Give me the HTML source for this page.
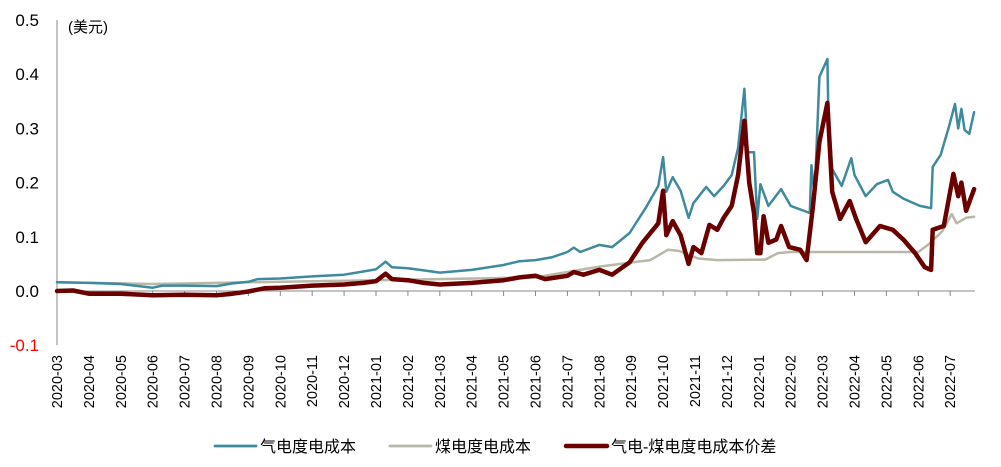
<!DOCTYPE html>
<html><head><meta charset="utf-8"><style>
body{margin:0;background:#fff;}
svg{display:block;font-family:"Liberation Sans","Noto Sans CJK SC",sans-serif;}
</style></head><body>
<svg id="chart" width="1001" height="467" viewBox="0 0 1001 467"></svg>
<script>
const monthLabels=["2020-03","2020-04","2020-05","2020-06","2020-07","2020-08","2020-09","2020-10","2020-11","2020-12","2021-01","2021-02","2021-03","2021-04","2021-05","2021-06","2021-07","2021-08","2021-09","2021-10","2021-11","2021-12","2022-01","2022-02","2022-03","2022-04","2022-05","2022-06","2022-07"];
const yTicks=[-0.1,0,0.1,0.2,0.3,0.4,0.5];
const yTickLabels=["-0.1","0.0","0.1","0.2","0.3","0.4","0.5"];
const gasT=[0,1,2,3,3.3,4,5,5.5,6,6.3,7,8,9,9.6,10,10.3,10.5,11,11.5,12,13,14,14.5,15,15.5,16,16.2,16.4,17,17.4,17.95,18.45,18.85,19.0,19.1,19.3,19.55,19.8,19.95,20.35,20.6,20.9,21.15,21.35,21.55,21.65,21.85,21.95,22.05,22.3,22.7,23.0,23.6,23.65,23.75,23.9,24.15,24.18,24.3,24.6,24.9,25.0,25.35,25.7,26.05,26.2,26.55,27.05,27.4,27.45,27.7,27.95,28.15,28.25,28.35,28.45,28.6,28.75];
const gasV=[0.016,0.015,0.013,0.006,0.01,0.01,0.009,0.014,0.017,0.022,0.023,0.027,0.03,0.036,0.04,0.054,0.044,0.042,0.038,0.034,0.039,0.048,0.055,0.057,0.062,0.072,0.08,0.072,0.085,0.081,0.107,0.153,0.194,0.247,0.183,0.21,0.185,0.135,0.162,0.192,0.175,0.194,0.214,0.264,0.373,0.256,0.256,0.133,0.197,0.157,0.188,0.157,0.144,0.232,0.175,0.395,0.428,0.332,0.225,0.194,0.245,0.214,0.175,0.197,0.205,0.183,0.17,0.157,0.153,0.229,0.251,0.301,0.345,0.3,0.336,0.297,0.29,0.33];
const coalT=[0,3,5,6,8,10,12,15,16,17,18.6,19.15,19.5,20.1,20.7,22.2,22.6,23.0,27.0,27.3,27.75,28.05,28.2,28.5,28.75];
const coalV=[0.016,0.013,0.015,0.016,0.018,0.02,0.022,0.025,0.035,0.045,0.057,0.076,0.074,0.06,0.057,0.058,0.07,0.072,0.072,0.085,0.11,0.142,0.125,0.135,0.137];
const spreadT=[0,0.5,1,2,3,4,5,5.5,6,6.5,7,8,9,9.6,10,10.3,10.5,11,11.5,12,13,14,14.5,15,15.3,16,16.2,16.5,17,17.4,17.95,18.35,18.85,19.0,19.1,19.3,19.55,19.8,19.95,20.2,20.45,20.7,20.9,21.15,21.35,21.55,21.7,21.85,21.95,22.05,22.15,22.3,22.55,22.7,22.95,23.3,23.5,23.7,23.9,24.15,24.3,24.55,24.85,25.05,25.35,25.8,26.2,26.55,26.9,27.2,27.4,27.45,27.8,28.1,28.25,28.35,28.5,28.75];
const spreadV=[0.0,0.001,-0.005,-0.005,-0.008,-0.007,-0.008,-0.005,-0.001,0.005,0.006,0.01,0.012,0.015,0.018,0.032,0.022,0.02,0.015,0.012,0.015,0.02,0.025,0.028,0.022,0.028,0.035,0.03,0.039,0.03,0.053,0.089,0.125,0.185,0.103,0.129,0.103,0.05,0.081,0.07,0.122,0.113,0.135,0.157,0.214,0.314,0.2,0.144,0.07,0.07,0.138,0.089,0.095,0.12,0.081,0.076,0.057,0.157,0.275,0.347,0.183,0.133,0.166,0.133,0.09,0.12,0.113,0.094,0.07,0.044,0.039,0.113,0.12,0.216,0.175,0.2,0.148,0.188];

const NS="http://www.w3.org/2000/svg";
const svg=document.getElementById('chart');
const x0=57,xStep=31.9,yZero=291,yUnit=542;
function xs(t){return x0+t*xStep;}
function ys(v){return yZero-v*yUnit;}
function mk(tag,attrs,parent){const e=document.createElementNS(NS,tag);for(const k in attrs)e.setAttribute(k,attrs[k]);(parent||svg).appendChild(e);return e;}

const yAxis=mk('line',{x1:x0,y1:ys(0.5),x2:x0,y2:ys(-0.1),stroke:'#888','stroke-width':1});


yTicks.forEach((v,i)=>{
  const t=mk('text',{x:39,y:ys(v)+6,'text-anchor':'end','font-size':17,fill:v<0?'#ff0000':'#000'});
  t.textContent=yTickLabels[i];
  
  
});
const unit=mk('text',{x:68,y:32,'font-size':15,fill:'#000'});
unit.textContent='(美元)';



const xAxis=mk('line',{x1:x0,y1:yZero,x2:975,y2:yZero,stroke:'#888','stroke-width':1});


monthLabels.forEach((m,i)=>{
  const tk=mk('line',{x1:xs(i),y1:yZero,x2:xs(i),y2:yZero+5,stroke:'#888','stroke-width':1});
  
  
  const tx=mk('text',{x:0,y:0,'font-size':14.5,fill:'#000','text-anchor':'end',transform:`translate(${xs(i)+5},355) rotate(-90)`});
  tx.textContent=m;
  
  
});

function series(T,V,color,w,name){
  const d=T.map((t,i)=>(i?'L':'M')+xs(t).toFixed(1)+' '+ys(V[i]).toFixed(1)).join(' ');
  const p=mk('path',{d:d,fill:'none',stroke:color,'stroke-width':w,'stroke-linejoin':'round','stroke-linecap':'round'});
  
  
}
series(coalT,coalV,'#b9b7a7',2.5,'coal-cost-line');
series(gasT,gasV,'#3f8a9c',2.5,'gas-cost-line');
series(spreadT,spreadV,'#6a0000',4.5,'spread-line');

const legend=[['气电度电成本','#3f8a9c',2.8,215],['煤电度电成本','#b9b7a7',2.8,390],['气电-煤电度电成本价差','#6a0000',4.5,566]];
legend.forEach(l=>{
  const g=mk('g',{});
  
  
  mk('line',{x1:l[3],y1:446,x2:l[3]+41,y2:446,stroke:l[1],'stroke-width':l[2],'stroke-linecap':'round'},g);
  const t=mk('text',{x:l[3]+45,y:452,'font-size':16,fill:'#000'},g);
  t.textContent=l[0];
});
</script>
</body></html>
